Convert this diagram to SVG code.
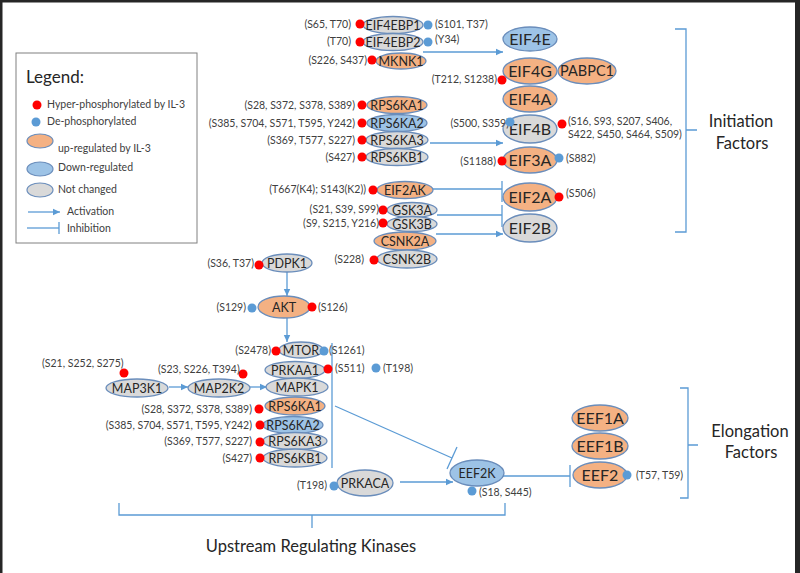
<svg xmlns="http://www.w3.org/2000/svg" width="800" height="573" viewBox="0 0 800 573">
<style>
  .bg{fill:#ffffff}
  .frame{fill:#262626}
  .n ellipse{stroke:#6a8dbb;stroke-width:1.3}
  .up{fill:#F4B183}
  .down{fill:#9DC3E6}
  .nc{fill:#D9D9D9}
  .nt{font-family:Lato,"Liberation Sans",sans-serif;font-size:12.5px;fill:#262626;text-anchor:middle}
  .bt{font-family:Lato,"Liberation Sans",sans-serif;font-size:16px;fill:#262626;text-anchor:middle}
  .lb{font-family:Lato,"Liberation Sans",sans-serif;font-size:10.5px;fill:#404040}
  .e{text-anchor:end}
  .big{font-family:Lato,"Liberation Sans",sans-serif;font-size:16.5px;fill:#262626}
  .red{fill:#FF0000}
  .blu{fill:#5B9BD5}
  .ln{stroke:#5B9BD5;stroke-width:1.3;fill:none}
  .act{marker-end:url(#arr)}
</style>
<defs>
  <marker id="arr" markerUnits="userSpaceOnUse" markerWidth="8" markerHeight="8" refX="7" refY="4" orient="auto">
    <path d="M0,0.8 L7,4 L0,7.2 z" fill="#5B9BD5"/>
  </marker>
</defs>
<rect class="bg" x="0" y="0" width="800" height="573"/>
<rect class="frame" x="0" y="0" width="2.5" height="573"/>
<rect class="frame" x="0" y="0" width="800" height="2.5"/>
<rect class="frame" x="795" y="0" width="5" height="573"/>

<!-- Legend -->
<g id="legend">
  <rect x="16" y="53" width="181" height="190" fill="#ffffff" stroke="#808080" stroke-width="1"/>
  <text class="big" x="26" y="83" style="font-size:17px">Legend:</text>
  <circle class="red" cx="37" cy="105" r="4.5"/>
  <text class="lb" x="47" y="108">Hyper-phosphorylated by IL-3</text>
  <circle class="blu" cx="36" cy="122" r="4.5"/>
  <text class="lb" x="47" y="125">De-phosphorylated</text>
  <ellipse class="up" cx="40" cy="141" rx="13" ry="7" stroke="#6a8dbb" stroke-width="1.2"/>
  <text class="lb" x="58" y="152">up-regulated by IL-3</text>
  <ellipse class="down" cx="40" cy="169" rx="13" ry="7" stroke="#6a8dbb" stroke-width="1.2"/>
  <text class="lb" x="58" y="171">Down-regulated</text>
  <ellipse class="nc" cx="40" cy="190" rx="13" ry="7" stroke="#6a8dbb" stroke-width="1.2"/>
  <text class="lb" x="58" y="193">Not changed</text>
  <line class="ln act" x1="28" y1="212" x2="60" y2="212"/>
  <text class="lb" x="67" y="215">Activation</text>
  <line class="ln" x1="27" y1="228" x2="59" y2="228"/>
  <line class="ln" x1="59" y1="222" x2="59" y2="234"/>
  <text class="lb" x="67" y="232">Inhibition</text>
</g>

<!-- Connectors -->
<g id="connectors">
  <line class="ln act" x1="423" y1="52" x2="503" y2="52"/>
  <line class="ln act" x1="430" y1="143" x2="503" y2="143"/>
  <line class="ln" x1="433" y1="189" x2="502" y2="189"/>
  <line class="ln" x1="502" y1="181" x2="502" y2="202"/>
  <line class="ln" x1="437" y1="215" x2="502" y2="215"/>
  <line class="ln" x1="502" y1="205" x2="502" y2="227"/>
  <line class="ln act" x1="436" y1="234" x2="503" y2="234"/>
  <line class="ln act" x1="287" y1="272" x2="287" y2="296"/>
  <line class="ln act" x1="287" y1="318" x2="287" y2="342"/>
  <line class="ln act" x1="169" y1="387" x2="188" y2="387"/>
  <line class="ln act" x1="250" y1="387" x2="267" y2="387"/>
  <line class="ln" x1="332" y1="343" x2="332" y2="468"/>
  <line class="ln" x1="335" y1="406" x2="452" y2="458"/>
  <line class="ln" x1="447" y1="469" x2="457" y2="447"/>
  <line class="ln act" x1="400" y1="482" x2="453" y2="482"/>
  <line class="ln" x1="503" y1="476" x2="570" y2="476"/>
  <line class="ln" x1="570" y1="465" x2="570" y2="487"/>
  <!-- brackets -->
  <path class="ln" d="M675,29 H686 V232 H675 M686,130 H697"/>
  <path class="ln" d="M680,388 H688 V498 H680 M688,445 H698"/>
  <path class="ln" d="M119,503 V515 H505 V503 M312,515 V528"/>
</g>

<!-- Top kinases -->
<g id="EIF4EBP1" class="n"><ellipse class="nc" cx="393" cy="25" rx="30" ry="8.5"/><text class="nt" x="393" y="29.5">EIF4EBP1</text>
  <circle class="red" cx="360" cy="24" r="4.5"/><text class="lb e" x="351" y="28">(S65, T70)</text>
  <circle class="blu" cx="428" cy="25" r="4.5"/><text class="lb" x="435" y="28">(S101, T37)</text></g>
<g id="EIF4EBP2" class="n"><ellipse class="nc" cx="393" cy="42" rx="30" ry="8.5"/><text class="nt" x="393" y="46.5">EIF4EBP2</text>
  <circle class="red" cx="360" cy="42" r="4.5"/><text class="lb e" x="351" y="45">(T70)</text>
  <circle class="blu" cx="428" cy="42" r="4.5"/><text class="lb" x="435" y="43">(Y34)</text></g>
<g id="MKNK1" class="n"><ellipse class="up" cx="401" cy="61" rx="25" ry="8"/><text class="nt" x="401" y="65.5">MKNK1</text>
  <circle class="red" cx="372" cy="60" r="4.5"/><text class="lb e" x="367" y="64">(S226, S437)</text></g>
<g id="RPS6KA1_top" class="n"><ellipse class="up" cx="397" cy="105" rx="30" ry="8.5"/><text class="nt" x="397" y="109.5">RPS6KA1</text>
  <circle class="red" cx="362" cy="105" r="4.5"/><text class="lb e" x="355" y="109">(S28, S372, S378, S389)</text></g>
<g id="RPS6KA2_top" class="n"><ellipse class="down" cx="397" cy="123" rx="30" ry="8.5"/><text class="nt" x="397" y="127.5">RPS6KA2</text>
  <circle class="red" cx="362" cy="123" r="4.5"/><text class="lb e" x="355" y="127">(S385, S704, S571, T595, Y242)</text></g>
<g id="RPS6KA3_top" class="n"><ellipse class="nc" cx="397" cy="140" rx="31" ry="8.5"/><text class="nt" x="397" y="144.5">RPS6KA3</text>
  <circle class="red" cx="362" cy="140" r="4.5"/><text class="lb e" x="355" y="144">(S369, T577, S227)</text></g>
<g id="RPS6KB1_top" class="n"><ellipse class="nc" cx="397" cy="157" rx="31" ry="8.5"/><text class="nt" x="397" y="161.5">RPS6KB1</text>
  <circle class="red" cx="362" cy="157" r="4.5"/><text class="lb e" x="355" y="161">(S427)</text></g>
<g id="EIF2AK" class="n"><ellipse class="up" cx="405" cy="190" rx="28" ry="8.5"/><text class="nt" x="405" y="194.5">EIF2AK</text>
  <circle class="red" cx="373" cy="190" r="4.5"/><text class="lb e" x="366" y="193">(T667(K4); S143(K2))</text></g>
<g id="GSK3A" class="n"><ellipse class="nc" cx="412" cy="210" rx="25" ry="7.5"/><text class="nt" x="412" y="214.5">GSK3A</text>
  <circle class="red" cx="383" cy="210" r="4.5"/><text class="lb e" x="379" y="213">(S21, S39, S99)</text></g>
<g id="GSK3B" class="n"><ellipse class="nc" cx="412" cy="224" rx="25" ry="7.5"/><text class="nt" x="412" y="228.5">GSK3B</text>
  <circle class="red" cx="383" cy="223" r="4.5"/><text class="lb e" x="379" y="227">(S9, S215, Y216)</text></g>
<g id="CSNK2A" class="n"><ellipse class="up" cx="405" cy="241" rx="31" ry="9"/><text class="nt" x="405" y="245.5">CSNK2A</text></g>
<g id="CSNK2B" class="n"><ellipse class="nc" cx="407" cy="259" rx="30" ry="9"/><text class="nt" x="407" y="263.5">CSNK2B</text>
  <circle class="red" cx="374" cy="260" r="4.5"/><text class="lb e" x="364" y="263">(S228)</text></g>

<!-- Initiation factors -->
<g id="EIF4E" class="n"><ellipse class="down" cx="530" cy="39" rx="27" ry="12"/><text class="bt" x="530" y="44.5">EIF4E</text></g>
<g id="EIF4G" class="n"><ellipse class="up" cx="530" cy="71" rx="27" ry="13"/><text class="bt" x="530" y="76.5">EIF4G</text>
  <circle class="red" cx="502" cy="80" r="4.5"/><text class="lb e" x="497" y="83">(T212, S1238)</text></g>
<g id="PABPC1" class="n"><ellipse class="up" cx="587" cy="71" rx="29" ry="13"/><text class="bt" x="587" y="76" style="font-size:14.5px">PABPC1</text></g>
<g id="EIF4A" class="n"><ellipse class="up" cx="530" cy="99" rx="27" ry="13"/><text class="bt" x="530" y="104.5">EIF4A</text></g>
<g id="EIF4B" class="n"><ellipse class="nc" cx="530" cy="129" rx="27" ry="14"/><text class="bt" x="530" y="134.5">EIF4B</text>
  <text class="lb e" x="509" y="127">(S500, S359)</text><circle class="blu" cx="510" cy="122" r="4.5"/>
  <circle class="red" cx="562" cy="124" r="4.5"/>
  <text class="lb" x="568" y="125">(S16, S93, S207, S406,</text>
  <text class="lb" x="568" y="138">S422, S450, S464, S509)</text></g>
<g id="EIF3A" class="n"><ellipse class="up" cx="530" cy="160" rx="27" ry="13"/><text class="bt" x="530" y="165.5">EIF3A</text>
  <circle class="red" cx="502" cy="161" r="4.5"/><text class="lb e" x="496" y="165">(S1188)</text>
  <circle class="blu" cx="559" cy="158" r="4.5"/><text class="lb" x="566" y="162">(S882)</text></g>
<g id="EIF2A" class="n"><ellipse class="up" cx="530" cy="197" rx="27" ry="14"/><text class="bt" x="530" y="202.5">EIF2A</text>
  <circle class="red" cx="559" cy="197" r="4.5"/><text class="lb" x="566" y="197">(S506)</text></g>
<g id="EIF2B" class="n"><ellipse class="nc" cx="530" cy="228" rx="27" ry="14"/><text class="bt" x="530" y="233.5">EIF2B</text></g>

<!-- Upstream kinases -->
<g id="PDPK1" class="n"><ellipse class="nc" cx="287" cy="263" rx="25" ry="9"/><text class="nt" x="287" y="267.5">PDPK1</text>
  <circle class="red" cx="259" cy="265" r="4.5"/><text class="lb e" x="254" y="267">(S36, T37)</text></g>
<g id="AKT" class="n"><ellipse class="up" cx="284" cy="307" rx="26" ry="11"/><text class="nt" x="284" y="311.5">AKT</text>
  <circle class="blu" cx="252" cy="308" r="4.5"/><text class="lb e" x="246" y="311">(S129)</text>
  <circle class="red" cx="312" cy="307" r="4.5"/><text class="lb" x="318" y="311">(S126)</text></g>
<g id="MTOR" class="n"><ellipse class="nc" cx="301" cy="350" rx="22" ry="8"/><text class="nt" x="301" y="354.5">MTOR</text>
  <circle class="red" cx="276" cy="351" r="4.5"/><text class="lb e" x="271" y="354">(S2478)</text>
  <circle class="blu" cx="324" cy="351" r="4.5"/><text class="lb" x="329" y="354">(S1261)</text></g>
<g id="PRKAA1" class="n"><ellipse class="nc" cx="295" cy="370" rx="30" ry="8.5"/><text class="nt" x="295" y="374.5">PRKAA1</text>
  <circle class="red" cx="328" cy="369" r="4.5"/><text class="lb" x="335" y="372">(S511)</text>
  <circle class="blu" cx="376" cy="368" r="4.5"/><text class="lb" x="383" y="372">(T198)</text></g>
<g id="MAPK1" class="n"><ellipse class="nc" cx="297" cy="387" rx="31" ry="9"/><text class="nt" x="297" y="391.5">MAPK1</text></g>
<g id="MAP3K1" class="n"><ellipse class="nc" cx="137" cy="388" rx="31" ry="9"/><text class="nt" x="137" y="392.5">MAP3K1</text>
  <circle class="red" cx="124" cy="373" r="4.5"/><text class="lb" x="42" y="367">(S21, S252, S275)</text></g>
<g id="MAP2K2" class="n"><ellipse class="nc" cx="219" cy="388" rx="31" ry="9"/><text class="nt" x="219" y="392.5">MAP2K2</text>
  <circle class="red" cx="243" cy="374" r="4.5"/><text class="lb" x="158" y="373">(S23, S226, T394)</text></g>
<g id="RPS6KA1" class="n"><ellipse class="up" cx="295" cy="406" rx="30" ry="9"/><text class="nt" x="295" y="410.5">RPS6KA1</text>
  <circle class="red" cx="259" cy="409" r="4.5"/><text class="lb e" x="252" y="413">(S28, S372, S378, S389)</text></g>
<g id="RPS6KA2" class="n"><ellipse class="down" cx="293" cy="425" rx="30" ry="8.5"/><text class="nt" x="293" y="429.5">RPS6KA2</text>
  <circle class="red" cx="260" cy="425" r="4.5"/><text class="lb e" x="252" y="429">(S385, S704, S571, T595, Y242)</text></g>
<g id="RPS6KA3" class="n"><ellipse class="nc" cx="295" cy="441" rx="32" ry="8.5"/><text class="nt" x="295" y="445.5">RPS6KA3</text>
  <circle class="red" cx="260" cy="442" r="4.5"/><text class="lb e" x="252" y="445">(S369, T577, S227)</text></g>
<g id="RPS6KB1" class="n"><ellipse class="nc" cx="295" cy="458" rx="32" ry="9"/><text class="nt" x="295" y="462.5">RPS6KB1</text>
  <circle class="red" cx="260" cy="458" r="4.5"/><text class="lb e" x="252" y="462">(S427)</text></g>
<g id="PRKACA" class="n"><ellipse class="nc" cx="365" cy="483" rx="28" ry="13"/><text class="nt" x="365" y="487.5">PRKACA</text>
  <circle class="blu" cx="334" cy="486" r="4.5"/><text class="lb e" x="327" y="489">(T198)</text></g>
<g id="EEF2K" class="n"><ellipse class="down" cx="477" cy="473" rx="27" ry="13"/><text class="nt" x="477" y="477.5">EEF2K</text>
  <circle class="blu" cx="472" cy="491" r="4.5"/><text class="lb" x="479" y="496">(S18, S445)</text></g>

<!-- Elongation factors -->
<g id="EEF1A" class="n"><ellipse class="up" cx="600" cy="418" rx="28" ry="13"/><text class="bt" x="600" y="423.5">EEF1A</text></g>
<g id="EEF1B" class="n"><ellipse class="up" cx="600" cy="446" rx="28" ry="13"/><text class="bt" x="600" y="451.5">EEF1B</text></g>
<g id="EEF2" class="n"><ellipse class="up" cx="600" cy="475" rx="27" ry="13"/><text class="bt" x="600" y="480.5">EEF2</text>
  <circle class="blu" cx="627" cy="475" r="4.5"/><text class="lb" x="636" y="479">(T57, T59)</text></g>

<!-- Group labels -->
<g id="labels">
  <text class="big" x="741" y="127" text-anchor="middle">Initiation</text>
  <text class="big" x="742" y="149" text-anchor="middle">Factors</text>
  <text class="big" x="750" y="437" text-anchor="middle">Elongation</text>
  <text class="big" x="751" y="458" text-anchor="middle">Factors</text>
  <text class="big" x="311" y="552" text-anchor="middle">Upstream Regulating Kinases</text>
</g>
</svg>
